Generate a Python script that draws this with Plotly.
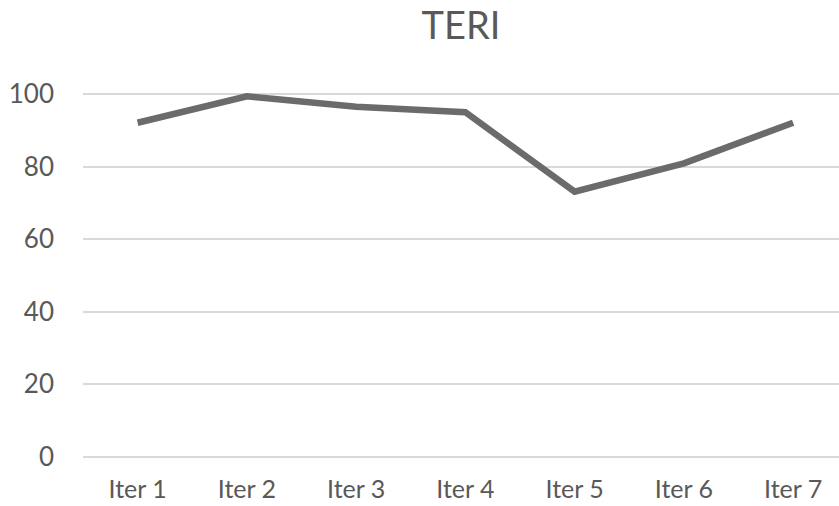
import plotly.graph_objects as go

categories = ["Iter 1", "Iter 2", "Iter 3", "Iter 4", "Iter 5", "Iter 6", "Iter 7"]
teri = [92.1, 99.4, 96.5, 95.0, 73.1, 80.9, 92.1]
y_ticks = [0, 20, 40, 60, 80, 100]

fig = go.Figure()
fig.add_trace(go.Scatter(
    x=categories, y=teri, mode="lines",
    line=dict(color="#6b6b6b", width=6.5),
    cliponaxis=False, showlegend=False,
))

fig.update_layout(
    width=839, height=506,
    paper_bgcolor="white", plot_bgcolor="white",
    margin=dict(l=83, r=0, t=93, b=48),
    font=dict(family="Lato, Open Sans, sans-serif", color="#595959", size=26),
    title=dict(text="TERI", x=0.5, xref="paper", xanchor="center",
               y=1 - 26/506, yref="container", yanchor="middle",
               font=dict(size=38, color="#595959")),
    xaxis=dict(type="category", range=[-0.5, 6.42], showgrid=False,
               showline=False, zeroline=False, ticks="", ticklabelstandoff=14,
               tickfont=dict(size=25), automargin=False),
    yaxis=dict(range=[-0.3, 100.3], tickvals=y_ticks, showgrid=True,
               gridcolor="#d9d9d9", gridwidth=2, zeroline=False, showline=False,
               ticks="", ticklabelstandoff=28, tickfont=dict(size=26),
               automargin=False),
)
fig.write_html("out.html", config={"displayModeBar": False},
               post_script="document.body.style.margin='0';document.body.style.padding='0';")
